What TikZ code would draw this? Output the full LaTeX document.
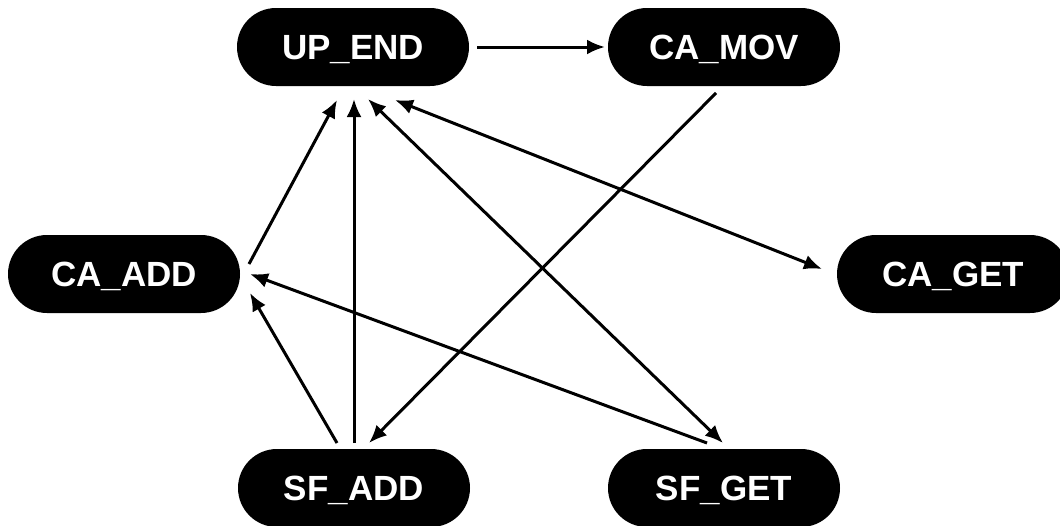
\documentclass[tikz,border=0pt]{standalone}
\usepackage{fontspec}
\setmainfont{Liberation Sans}
\usetikzlibrary{arrows.meta,calc}
\tikzset{
  pill/.style={fill=black, rounded corners=39pt, minimum width=232pt, minimum height=78pt,
    inner sep=0pt, text=white, font=\bfseries\fontsize{35}{35}\selectfont,
    text height=24.5pt, text depth=0pt},
  conn/.style={line width=3pt, draw=black},
  tip/.style={-{Latex[length=18pt,width=15pt]}},
  both/.style={{Latex[length=18pt,width=15pt]}-{Latex[length=18pt,width=15pt]}}
}
\begin{document}
\begin{tikzpicture}[x=1pt,y=-1pt]
\useasboundingbox (0,0) rectangle (1060,525);
\node[pill] (ue) at (353,47) {UP\_END};
\node[pill] (cm) at (724,47) {CA\_MOV};
\node[pill] (ca) at (124,274) {CA\_ADD};
\node[pill] (cg) at (953,274) {CA\_GET};
\node[pill] (sa) at (354,488) {SF\_ADD};
\node[pill] (sg) at (724,488) {SF\_GET};
% edges
\draw[conn,tip] ($(ue)+(124,0)$) -- ($(cm)+(-119,0)$);
\draw[conn,tip] ($(cm)+(-8,46)$) -- ($(sa)+(15,-45)$);
\draw[conn,both] ($(ue)+(42,53)$) -- ($(cg)+(-131,-5)$);
\draw[conn,tip] ($(ca)+(125,-10)$) -- ($(ue)+(-16,53)$);
\draw[conn,tip] ($(sa)+(0,-45)$) -- ($(ue)+(1,52)$);
\draw[conn,tip] ($(sa)+(-17,-45)$) -- ($(ca)+(126,19)$);
\draw[conn,both] ($(sg)+(-1,-45)$) -- ($(ue)+(15,52)$);
\draw[conn,tip] ($(sg)+(-17,-45)$) -- ($(ca)+(126,0)$);
\end{tikzpicture}
\end{document}
